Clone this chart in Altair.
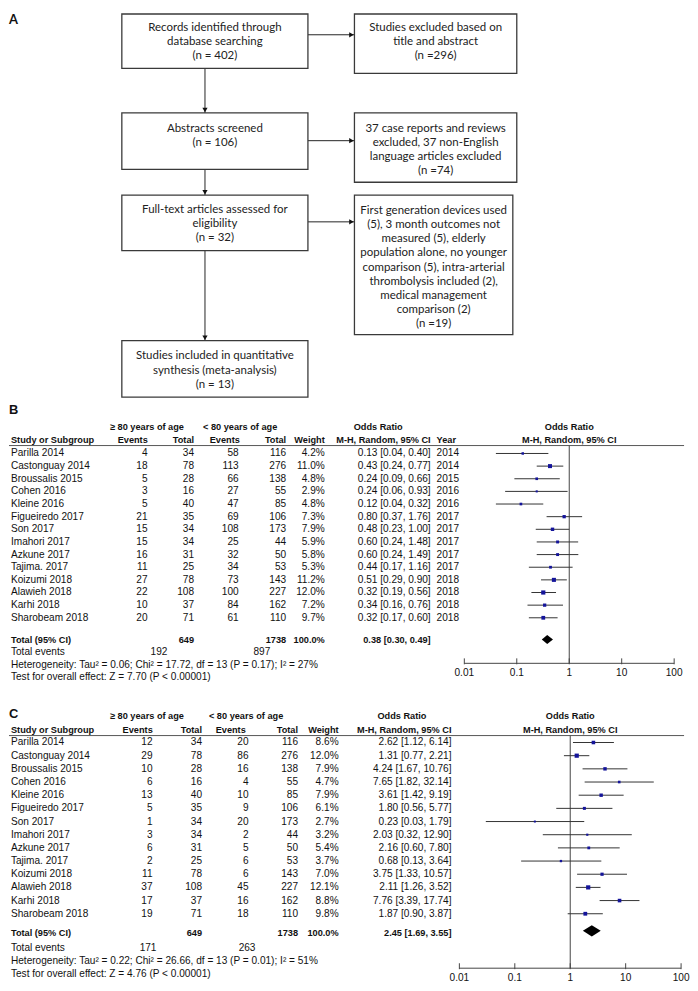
import altair as alt
import pandas as pd

# ---------------- data ----------------
studies = ["Parilla 2014", "Castonguay 2014", "Broussalis 2015", "Cohen 2016", "Kleine 2016",
           "Figueiredo 2017", "Son 2017", "Imahori 2017", "Azkune 2017", "Tajima. 2017",
           "Koizumi 2018", "Alawieh 2018", "Karhi 2018", "Sharobeam 2018"]
years = [2014, 2014, 2015, 2016, 2016, 2017, 2017, 2017, 2017, 2017, 2018, 2018, 2018, 2018]
total_old = [34, 78, 28, 16, 40, 35, 34, 34, 31, 25, 78, 108, 37, 71]
total_young = [116, 276, 138, 55, 85, 106, 173, 44, 50, 53, 143, 227, 162, 110]

# panel B
b_events_old = [4, 18, 5, 3, 5, 21, 15, 15, 16, 11, 27, 22, 10, 20]
b_events_young = [58, 113, 66, 27, 47, 69, 108, 25, 32, 34, 73, 100, 84, 61]
b_weight = [4.2, 11.0, 4.8, 2.9, 4.8, 7.3, 7.9, 5.9, 5.8, 5.3, 11.2, 12.0, 7.2, 9.7]
b_or = [0.13, 0.43, 0.24, 0.24, 0.12, 0.80, 0.48, 0.60, 0.60, 0.44, 0.51, 0.32, 0.34, 0.32]
b_lo = [0.04, 0.24, 0.09, 0.06, 0.04, 0.37, 0.23, 0.24, 0.24, 0.17, 0.29, 0.19, 0.16, 0.17]
b_hi = [0.40, 0.77, 0.66, 0.93, 0.32, 1.76, 1.00, 1.48, 1.49, 1.16, 0.90, 0.56, 0.76, 0.60]
b_summary = [0.38, 0.30, 0.49]
b_totals = [649, 1738]
b_total_events = [192, 897]
b_heterogeneity = "Heterogeneity: Tau\u00b2 = 0.06; Chi\u00b2 = 17.72, df = 13 (P = 0.17); I\u00b2 = 27%"
b_overall = "Test for overall effect: Z = 7.70 (P < 0.00001)"

# panel C
c_events_old = [12, 29, 10, 6, 13, 5, 1, 3, 6, 2, 11, 37, 17, 19]
c_events_young = [20, 86, 16, 4, 10, 9, 20, 2, 5, 6, 6, 45, 16, 18]
c_weight = [8.6, 12.0, 7.9, 4.7, 7.9, 6.1, 2.7, 3.2, 5.4, 3.7, 7.0, 12.1, 8.8, 9.8]
c_or = [2.62, 1.31, 4.24, 7.65, 3.61, 1.80, 0.23, 2.03, 2.16, 0.68, 3.75, 2.11, 7.76, 1.87]
c_lo = [1.12, 0.77, 1.67, 1.82, 1.42, 0.56, 0.03, 0.32, 0.60, 0.13, 1.33, 1.26, 3.39, 0.90]
c_hi = [6.14, 2.21, 10.76, 32.14, 9.19, 5.77, 1.79, 12.90, 7.80, 3.64, 10.57, 3.52, 17.74, 3.87]
c_summary = [2.45, 1.69, 3.55]
c_totals = [649, 1738]
c_total_events = [171, 263]
c_heterogeneity = "Heterogeneity: Tau\u00b2 = 0.22; Chi\u00b2 = 26.66, df = 13 (P = 0.01); I\u00b2 = 51%"
c_overall = "Test for overall effect: Z = 4.76 (P < 0.00001)"

axis_ticks = [0.01, 0.1, 1, 10, 100]
axis_labels = ["0.01", "0.1", "1", "10", "100"]

flow_texts = [
    ["Records identified through", "database searching", "(n = 402)"],
    ["Studies excluded based on", "title and abstract", "(n =296)"],
    ["Abstracts screened", "(n = 106)"],
    ["37 case reports and reviews", "excluded, 37 non-English", "language articles excluded", "(n =74)"],
    ["Full-text articles assessed for", "eligibility", "(n = 32)"],
    ["First generation devices used", "(5), 3 month outcomes not", "measured (5), elderly",
     "population alone, no younger", "comparison (5), intra-arterial", "thrombolysis included (2),",
     "medical management", "comparison (2)", "(n =19)"],
    ["Studies included in quantitative", "synthesis (meta-analysis)", "(n = 13)"],
]

# ---------------- layout / style ----------------
W = 682
FONT = "Liberation Sans"
FLOW_FONT = "Lato"
FS = 10.2
FSB = 9.3
TXT = "#111111"
LINE = "#333333"
BLUE = "#14149a"
ONE = pd.DataFrame({"k": [0]})

# flow boxes: x1, x2, y1, y2, first text line y (reference page pixels)
flow_layout = [
    (122, 310, 4, 59, 18),
    (357, 521, 4, 64, 18),
    (122, 310, 104, 161, 120),
    (357, 521, 104, 174, 120),
    (122, 310, 187, 243, 202),
    (357, 517, 187, 328, 203),
    (122, 310, 334, 391, 350),
]
FLOW_STEP = 14.3
h_arrows = [(310, 357, 25), (310, 357, 132), (310, 357, 214)]
v_arrows = [(206, 59, 104), (206, 161, 187), (206, 243, 334)]

A_TOP, A_H = 3, 393
B_TOP, B_H = 396, 302
C_TOP, C_H = 698, 288


def lbl(text, x, y, top, align="left", bold=False, size=None, font=FONT):
    if size is None:
        size = FSB if bold else FS
    return alt.Chart(ONE).mark_text(
        text=text, align=align, baseline="middle", font=font, fontSize=size,
        fontWeight="bold" if bold else "normal", color=TXT
    ).encode(x=alt.value(x - 8), y=alt.value(y - top))


# ---------------- panel A: flow diagram ----------------
xs_a = alt.Scale(domain=[8, 8 + W], range=[0, W], zero=False, nice=False)
ys_a = alt.Scale(domain=[A_TOP, A_TOP + A_H], range=[0, A_H], zero=False, nice=False)

box_df = pd.DataFrame([dict(x1=b[0], x2=b[1], y1=b[2], y2=b[3]) for b in flow_layout])
txt_rows = []
for (x1, x2, y1, y2, ty), lines in zip(flow_layout, flow_texts):
    for j, t in enumerate(lines):
        txt_rows.append(dict(x=(x1 + x2) / 2, y=ty + j * FLOW_STEP, t=t))
txt_df = pd.DataFrame(txt_rows)
seg_df = pd.DataFrame([dict(x1=a, x2=b, y1=y, y2=y) for a, b, y in h_arrows] +
                      [dict(x1=x, x2=x, y1=a, y2=b) for x, a, b in v_arrows])
head_r = pd.DataFrame([dict(x=b - 3, y=y) for a, b, y in h_arrows])
head_d = pd.DataFrame([dict(x=x, y=b - 3) for x, a, b in v_arrows])

boxes = alt.Chart(box_df).mark_rect(fill="white", stroke="#3a3a3a", strokeWidth=1.3).encode(
    x=alt.X("x1:Q", scale=xs_a, axis=None), x2="x2:Q",
    y=alt.Y("y1:Q", scale=ys_a, axis=None), y2="y2:Q")
flow_txt = alt.Chart(txt_df).mark_text(font=FLOW_FONT, fontSize=11.6, color="#222222",
                                       align="center", baseline="middle").encode(
    x=alt.X("x:Q", scale=xs_a, axis=None), y=alt.Y("y:Q", scale=ys_a, axis=None), text="t:N")
segs = alt.Chart(seg_df).mark_rule(color="#222222", strokeWidth=1).encode(
    x=alt.X("x1:Q", scale=xs_a, axis=None), x2="x2:Q",
    y=alt.Y("y1:Q", scale=ys_a, axis=None), y2="y2:Q")
heads_r = alt.Chart(head_r).mark_point(shape="triangle-right", filled=True, size=28,
                                       color="#111111", opacity=1).encode(
    x=alt.X("x:Q", scale=xs_a, axis=None), y=alt.Y("y:Q", scale=ys_a, axis=None))
heads_d = alt.Chart(head_d).mark_point(shape="triangle-down", filled=True, size=28,
                                       color="#111111", opacity=1).encode(
    x=alt.X("x:Q", scale=xs_a, axis=None), y=alt.Y("y:Q", scale=ys_a, axis=None))

panel_a = alt.layer(
    segs, boxes, flow_txt, heads_r, heads_d,
    lbl("A", 8, 10, A_TOP, bold=True, size=13, font=FLOW_FONT),
).properties(width=W, height=A_H)


# ---------------- forest panels ----------------
def forest(letter, ev_old, ev_young, weights, ors, los, his, summary, totals, tot_events,
           het, overall, L, top, height):
    ys = alt.Scale(domain=[0, 13], range=[L["row0"] - top, L["row13"] - top], zero=False, nice=False)
    xs = alt.Scale(type="log", domain=[0.01, 100], range=[L["ax0"] - 8, L["ax1"] - 8], nice=False)
    df = pd.DataFrame({
        "row": list(range(len(studies))),
        "study": studies,
        "ev1": [str(v) for v in ev_old],
        "tot1": [str(v) for v in total_old],
        "ev2": [str(v) for v in ev_young],
        "tot2": [str(v) for v in total_young],
        "wt": [f"{w:.1f}%" for w in weights],
        "ortxt": [f"{o:.2f} [{lo:.2f}, {hi:.2f}]" for o, lo, hi in zip(ors, los, his)],
        "year": [str(y) for y in years],
        "or": ors, "lo": los, "hi": his, "weight": weights,
    })
    Y = alt.Y("row:Q", scale=ys, axis=None)
    layers = []
    cols = [("study", L["study"], "left"), ("ev1", L["ev1"], "right"), ("tot1", L["tot1"], "right"),
            ("ev2", L["ev2"], "right"), ("tot2", L["tot2"], "right"), ("wt", L["wt"], "right"),
            ("ortxt", L["ortxt"], "right")]
    if L.get("year"):
        cols.append(("year", L["year"], "left"))
    for f, x, al in cols:
        layers.append(alt.Chart(df).mark_text(align=al, baseline="middle", font=FONT, fontSize=FS,
                                              color=TXT).encode(
            x=alt.value(x - 8), y=Y, text=f"{f}:N"))
    # reference lines
    layers.append(alt.Chart(ONE).mark_rule(color="#555555", strokeWidth=1).encode(
        x=alt.value(0), x2=alt.value(W), y=alt.value(L["hline"] - top)))
    vdf = pd.DataFrame({"v": [1]})
    layers.append(alt.Chart(vdf).mark_rule(color="#444444", strokeWidth=1).encode(
        x=alt.X("v:Q", scale=xs, axis=None), y=alt.value(L["hline"] - top),
        y2=alt.value(L["axis"] - top)))
    # CIs and squares
    layers.append(alt.Chart(df).mark_rule(color=LINE, strokeWidth=1).encode(
        x=alt.X("lo:Q", scale=xs, axis=None), x2="hi:Q", y=Y))
    layers.append(alt.Chart(df).mark_square(color=BLUE, opacity=1).encode(
        x=alt.X("or:Q", scale=xs, axis=None), y=Y,
        size=alt.Size("weight:Q", scale=alt.Scale(domain=[0, 12], range=[0, 18]), legend=None)))
    # diamond
    r, hh = L["total_row"], L["dh"]
    ddf = pd.DataFrame({"x": [summary[1], summary[0], summary[2]],
                        "yt": [r, r - hh, r], "yb": [r, r + hh, r]})
    layers.append(alt.Chart(ddf).mark_area(color="black", orient="vertical").encode(
        x=alt.X("x:Q", scale=xs, axis=None), y=alt.Y("yt:Q", scale=ys, axis=None), y2="yb:Q"))
    # axis
    adf = pd.DataFrame({"a": [axis_ticks[0]], "b": [axis_ticks[-1]]})
    layers.append(alt.Chart(adf).mark_rule(color="#444444", strokeWidth=1).encode(
        x=alt.X("a:Q", scale=xs, axis=None), x2="b:Q", y=alt.value(L["axis"] - top)))
    tdf = pd.DataFrame({"t": axis_ticks, "lab": axis_labels})
    layers.append(alt.Chart(tdf).mark_rule(color="#444444", strokeWidth=1).encode(
        x=alt.X("t:Q", scale=xs, axis=None), y=alt.value(L["axis"] - top - 5),
        y2=alt.value(L["axis"] - top + 1)))
    layers.append(alt.Chart(tdf).mark_text(font=FONT, fontSize=FS, color=TXT, baseline="middle",
                                           align="center").encode(
        x=alt.X("t:Q", scale=xs, axis=None), y=alt.value(L["axlab"] - top), text="lab:N"))
    # headers
    layers += [
        lbl(letter, 8, L["letter"], top, bold=True, size=13),
        lbl("\u2265 80 years of age", L["h_old"], L["h1"], top, bold=True),
        lbl("< 80 years of age", L["h_young"], L["h1"], top, bold=True),
        lbl("Odds Ratio", L["h_or"], L["h1"], top, align="center", bold=True),
        lbl("Odds Ratio", L["h_or2"], L["h1"], top, align="center", bold=True),
        lbl("Study or Subgroup", L["study"], L["h2"], top, bold=True),
        lbl("Events", L["h_ev1"], L["h2"], top, align="center", bold=True),
        lbl("Total", L["tot1"], L["h2"], top, align="right", bold=True),
        lbl("Events", L["h_ev2"], L["h2"], top, align="center", bold=True),
        lbl("Total", L["tot2"], L["h2"], top, align="right", bold=True),
        lbl("Weight", L["wt"], L["h2"], top, align="right", bold=True),
        lbl("M-H, Random, 95% CI", L["ortxt"], L["h2"], top, align="right", bold=True),
        lbl("M-H, Random, 95% CI", L["h_or2"], L["h2"], top, align="center", bold=True),
    ]
    if L.get("year"):
        layers.append(lbl("Year", L["year"], L["h2"], top, bold=True))
    # total rows
    layers += [
        lbl("Total (95% CI)", L["study"], L["total"], top, bold=True),
        lbl(str(totals[0]), L["tot1"], L["total"], top, align="right", bold=True),
        lbl(str(totals[1]), L["tot2"], L["total"], top, align="right", bold=True),
        lbl("100.0%", L["wt"], L["total"], top, align="right", bold=True),
        lbl(f"{summary[0]:.2f} [{summary[1]:.2f}, {summary[2]:.2f}]", L["ortxt"], L["total"], top,
            align="right", bold=True),
        lbl("Total events", L["study"], L["tev"], top),
        lbl(str(tot_events[0]), L["tev1"], L["tev"], top, align="right"),
        lbl(str(tot_events[1]), L["tev2"], L["tev"], top, align="right"),
        lbl(het, L["study"], L["het"], top),
        lbl(overall, L["study"], L["test"], top),
    ]
    return alt.layer(*layers).properties(width=W, height=height)


LB = dict(letter=404, h1=421, h2=434, hline=440, row0=448, row13=614, total=636, total_row=14.72,
          dh=0.35, tev=649, het=662, test=674, axis=660, axlab=670, ax0=468, ax1=680,
          study=10, ev1=148, tot1=195, ev2=240, tot2=288, wt=327, ortxt=434, year=440,
          h_old=110, h_young=204, h_or=381, h_or2=574, h_ev1=133, h_ev2=226, tev1=168, tev2=272)
LC = dict(letter=711, h1=713, h2=727, hline=733, row0=740, row13=913, total=932, total_row=14.3,
          dh=0.42, tev=948, het=961, test=974, axis=968, axlab=978, ax0=463, ax1=687,
          study=10, ev1=153, tot1=203, ev2=250, tot2=300, wt=341, ortxt=455, year=None,
          h_old=110, h_young=210, h_or=405, h_or2=575, h_ev1=138, h_ev2=232, tev1=157, tev2=257)

panel_b = forest("B", b_events_old, b_events_young, b_weight, b_or, b_lo, b_hi, b_summary, b_totals,
                 b_total_events, b_heterogeneity, b_overall, LB, B_TOP, B_H)
panel_c = forest("C", c_events_old, c_events_young, c_weight, c_or, c_lo, c_hi, c_summary, c_totals,
                 c_total_events, c_heterogeneity, c_overall, LC, C_TOP, C_H)

chart = alt.vconcat(panel_a, panel_b, panel_c, spacing=0).properties(padding=0).configure_view(
    stroke=None).configure_concat(spacing=0)

chart.save("out.html", embed_options={"renderer": "svg", "actions": False})
